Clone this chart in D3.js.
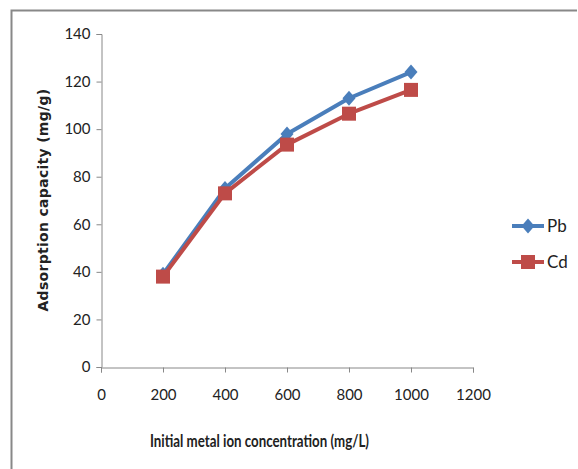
<!DOCTYPE html>
<html>
<head>
<meta charset="utf-8">
<script src="https://cdn.jsdelivr.net/npm/d3@7"></script>
<style>
  body { margin: 0; background: #fff; }
  svg text { font-family: Lato, "Open Sans", sans-serif; fill: #222; }
</style>
</head>
<body>
<div id="chart"></div>
<script>
const concentrations = [200, 400, 600, 800, 1000]
const pbValues = [39, 75, 98, 113, 124]
const cdValues = [38, 73, 93.5, 106.5, 116.5]
const xTicks = [0, 200, 400, 600, 800, 1000, 1200]
const yTicks = [0, 20, 40, 60, 80, 100, 120, 140]

const series = [
  { name: "Pb", values: pbValues, color: "#4a7ebb", marker: "diamond" },
  { name: "Cd", values: cdValues, color: "#be4b48", marker: "square" }
]

const dimensions = { width: 578, height: 469 }
const plot = { left: 101, right: 473, top: 34, bottom: 367 }

const svg = d3.select("#chart").append("svg")
  .attr("width", dimensions.width)
  .attr("height", dimensions.height)

// outer frame (only top and left edges visible)
svg.append("path")
  .attr("d", "M11.5,469 V10.5 H577")
  .attr("fill", "none")
  .attr("stroke", "#888")
  .attr("stroke-width", 2)

const xScale = d3.scaleLinear().domain([0, 1200]).range([plot.left, plot.right])
const yScale = d3.scaleLinear().domain([0, 140]).range([plot.bottom, plot.top])

// y axis
const yAxis = svg.append("g")
  .attr("transform", `translate(${plot.left + 0.5},0)`)
  .call(d3.axisLeft(yScale).tickValues(yTicks).tickFormat(d3.format("d")).tickSize(5).tickPadding(6))
yAxis.select(".domain").attr("stroke", "#888")
yAxis.selectAll(".tick line").attr("stroke", "#888")
yAxis.selectAll("text").attr("font-size", 15).attr("fill", "#222")

// x axis
const xAxis = svg.append("g")
  .attr("transform", `translate(0,${plot.bottom + 0.5})`)
  .call(d3.axisBottom(xScale).tickValues(xTicks).tickFormat(d3.format("d")).tickSize(5).tickPadding(17))
xAxis.select(".domain").attr("stroke", "#888")
xAxis.selectAll(".tick line").attr("stroke", "#888")
xAxis.selectAll("text").attr("font-size", 15).attr("fill", "#222")

// axis titles
svg.append("text")
  .attr("x", 150)
  .attr("y", 447)
  .attr("font-size", 16.5)
  .attr("font-weight", "bold")
  .attr("textLength", 219)
  .attr("lengthAdjust", "spacingAndGlyphs")
  .text("Initial metal ion concentration (mg/L)")

svg.append("text")
  .attr("transform", "translate(48,200) rotate(-90)")
  .attr("text-anchor", "middle")
  .attr("font-size", 14)
  .attr("font-weight", "bold")
  .style("font-family", "'DejaVu Sans', sans-serif")
  .style("letter-spacing", "0.3px")
  .text("Adsorption capacity (mg/g)")

const line = d3.line()
  .x((d, i) => xScale(concentrations[i]))
  .y(d => yScale(d))

function drawMarker(g, type, x, y, color) {
  if (type === "diamond") {
    g.append("path")
      .attr("d", `M${x},${y - 7.5} L${x + 6.5},${y} L${x},${y + 7.5} L${x - 6.5},${y} Z`)
      .attr("fill", color)
  } else {
    g.append("rect")
      .attr("x", x - 7).attr("y", y - 7)
      .attr("width", 14).attr("height", 14)
      .attr("fill", color)
  }
}

series.forEach(s => {
  const g = svg.append("g")
  g.append("path")
    .attr("d", line(s.values))
    .attr("fill", "none")
    .attr("stroke", s.color)
    .attr("stroke-width", 4)
    .attr("stroke-linejoin", "round")
  s.values.forEach((v, i) => drawMarker(g, s.marker, xScale(concentrations[i]), yScale(v), s.color))
})

// legend
const legend = svg.append("g")
series.forEach((s, i) => {
  const y = 226 + i * 36
  legend.append("line")
    .attr("x1", 512).attr("x2", 544)
    .attr("y1", y).attr("y2", y)
    .attr("stroke", s.color).attr("stroke-width", 4)
  drawMarker(legend, s.marker, 528, y, s.color)
  legend.append("text")
    .attr("x", 547).attr("y", y + 6)
    .attr("font-size", 17)
    .text(s.name)
})
</script>
</body>
</html>
